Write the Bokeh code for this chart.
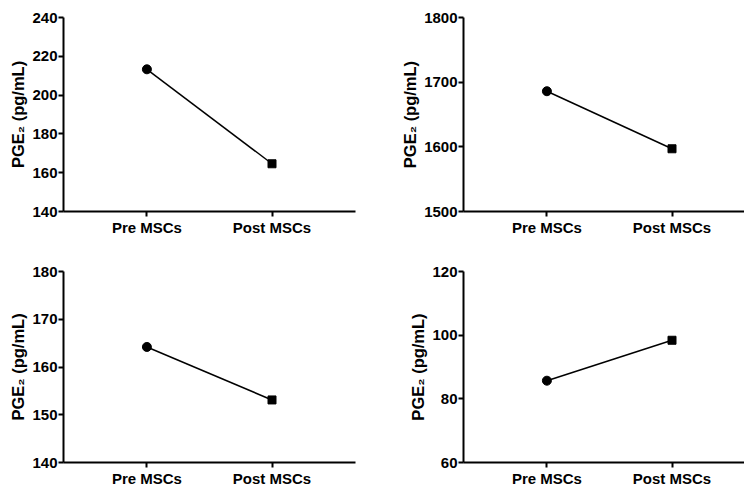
from bokeh.plotting import figure
from bokeh.layouts import column, row
from bokeh.models import FixedTicker, Range1d
from bokeh.embed import file_html
from bokeh.resources import INLINE

# ---- data ----
categories = ["Pre MSCs", "Post MSCs"]
panel_a = [213.3, 164.6]
panel_b = [1686.0, 1597.0]
panel_c = [164.2, 153.1]
panel_d = [85.7, 98.4]
ticks_a = [140, 160, 180, 200, 220, 240]
ticks_b = [1500, 1600, 1700, 1800]
ticks_c = [140, 150, 160, 170, 180]
ticks_d = [60, 80, 100, 120]
y_label = "PGE\u2082 (pg/mL)"

FONT = "Liberation Sans"
PX_PER_UNIT = 125.1


def make_panel(values, ticks, width, height, frame_w, bl, br, bt, bb):
    xs = [i + 1 for i in range(len(categories))]
    p = figure(width=width, height=height, output_backend="svg",
               toolbar_location=None, tools="",
               x_range=Range1d(1 / 3, 1 / 3 + frame_w / PX_PER_UNIT),
               y_range=Range1d(ticks[0], ticks[-1]),
               min_border_left=bl, min_border_right=br,
               min_border_top=bt, min_border_bottom=bb)
    p.outline_line_color = None
    p.grid.visible = False
    p.background_fill_color = "white"
    p.border_fill_color = "white"

    p.line(xs, values, line_color="black", line_width=1.5)
    p.scatter([xs[0]], [values[0]], marker="circle", size=9,
              fill_color="black", line_color="black")
    p.scatter([xs[1]], [values[1]], marker="square", size=8,
              fill_color="black", line_color="black")

    p.xaxis.ticker = FixedTicker(ticks=xs)
    p.xaxis.major_label_overrides = {x: c for x, c in zip(xs, categories)}
    p.yaxis.ticker = FixedTicker(ticks=ticks)
    p.yaxis.axis_label = y_label

    for ax in (p.xaxis, p.yaxis):
        ax.axis_line_width = 2
        ax.axis_line_color = "black"
        ax.major_tick_line_width = 2
        ax.major_tick_line_color = "black"
        ax.major_tick_out = 5
        ax.major_tick_in = 0
        ax.minor_tick_line_color = None
        ax.major_label_text_font = FONT
        ax.major_label_text_font_style = "bold"
        ax.major_label_text_font_size = "15px"
        ax.major_label_text_color = "black"
        ax.major_label_standoff = 1
    p.xaxis.major_label_standoff = 2
    p.yaxis.axis_label_text_font = FONT
    p.yaxis.axis_label_text_font_style = "bold"
    p.yaxis.axis_label_text_font_size = "16.5px"
    p.yaxis.axis_label_text_color = "black"
    p.yaxis.axis_label_standoff = 2
    return p


# top row: frame y 17..211 ; bottom row: frame y 271..464
p1 = make_panel(panel_a, ticks_a, 365, 255, 292, 63, 10, 17, 44)
p2 = make_panel(panel_b, ticks_b, 379, 255, 281, 98, 0, 17, 44)
p3 = make_panel(panel_c, ticks_c, 365, 234, 292, 63, 10, 16, 25)
p4 = make_panel(panel_d, ticks_d, 379, 234, 281, 98, 0, 16, 25)

layout = column(row(p1, p2), row(p3, p4))

open("out.html", "w").write(file_html(layout, INLINE))
